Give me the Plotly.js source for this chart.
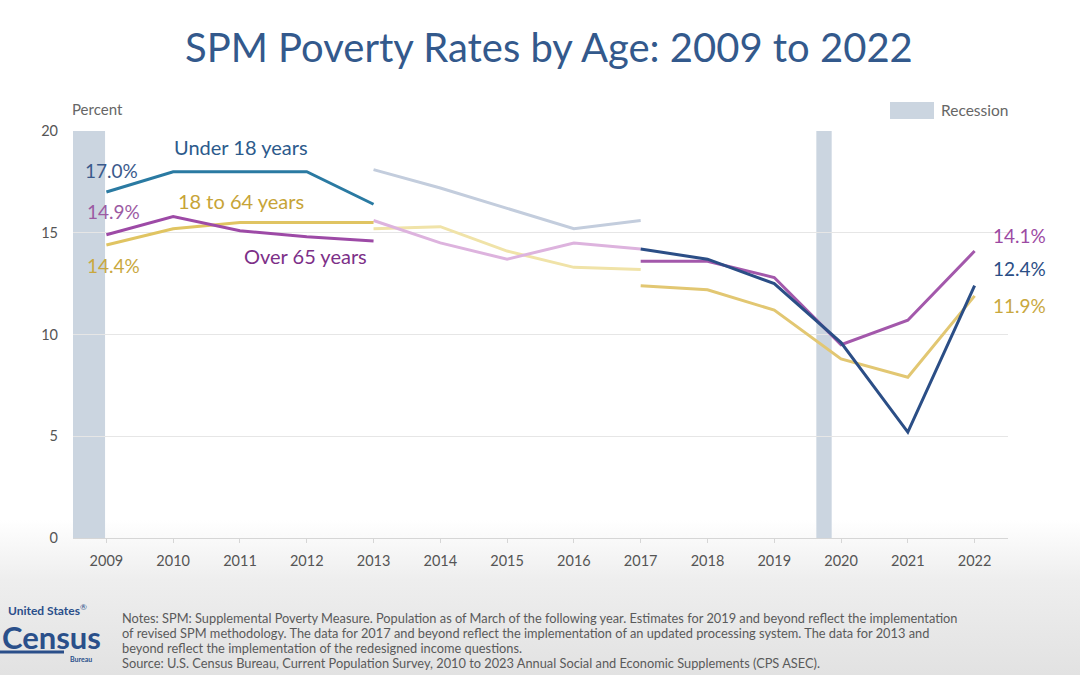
<!DOCTYPE html>
<html>
<head>
<meta charset="utf-8">
<script src="https://cdn.plot.ly/plotly-3.0.1.min.js"></script>
<style>
  html, body { margin: 0; padding: 0; }
  body { width: 1080px; height: 675px; overflow: hidden;
         background: linear-gradient(to bottom, #ffffff 0px, #ffffff 520px, #eeeeee 580px, #e2e2e2 675px); }
  #chart { width: 1080px; height: 675px; }
</style>
</head>
<body>
<div id="chart"></div>
<script>
// ---- data ----
const yearsA = [2009, 2010, 2011, 2012, 2013];
const yearsB = [2013, 2014, 2015, 2016, 2017];
const yearsC = [2017, 2018, 2019, 2020, 2021, 2022];
const tickYears = [2009, 2010, 2011, 2012, 2013, 2014, 2015, 2016, 2017, 2018, 2019, 2020, 2021, 2022];

const under18A = [17.0, 18.0, 18.0, 18.0, 16.4];
const under18B = [18.1, 17.2, 16.2, 15.2, 15.6];
const under18C = [14.2, 13.7, 12.5, 9.6, 5.2, 12.4];

const age18to64A = [14.4, 15.2, 15.5, 15.5, 15.5];
const age18to64B = [15.2, 15.3, 14.1, 13.3, 13.2];
const age18to64C = [12.4, 12.2, 11.2, 8.8, 7.9, 11.9];

const over65A = [14.9, 15.8, 15.1, 14.8, 14.6];
const over65B = [15.6, 14.5, 13.7, 14.5, 14.2];
const over65C = [13.6, 13.6, 12.8, 9.5, 10.7, 14.1];

const recessions = [[2008.5, 2008.98], [2019.63, 2019.86]];

// ---- styling ----
const FONT = 'Lato, "Open Sans", sans-serif';
const L = 73, R = 1008, T = 131, B = 538;
const px = x => (x - L) / (R - L);
const py = y => (B - y) / (B - T);

function line(x, y, color, w) {
  return { x: x, y: y, type: 'scatter', mode: 'lines',
           line: { color: color, width: w || 3 }, hoverinfo: 'skip', showlegend: false };
}

const traces = [
  line(yearsB, under18B, '#c3cddd'),
  line(yearsB, age18to64B, '#f0e3a8'),
  line(yearsB, over65B, '#ddb3de'),
  line(yearsA, age18to64A, '#e0c462'),
  line(yearsA, over65A, '#9d4aa6'),
  line(yearsA, under18A, '#2a7aa2'),
  line(yearsC, age18to64C, '#e2c772'),
  line(yearsC, over65C, '#a358ab'),
  line(yearsC, under18C, '#2b4e86')
];

const shapes = recessions.map(r => ({
  type: 'rect', xref: 'x', yref: 'paper', x0: r[0], x1: r[1], y0: 0, y1: 1,
  fillcolor: '#cbd5e0', line: { width: 0 }, layer: 'below'
}));
// legend swatch
shapes.push({ type: 'rect', xref: 'paper', yref: 'paper',
  x0: px(890), x1: px(934), y0: py(119), y1: py(102),
  fillcolor: '#cbd5e0', line: { width: 0 } });
// logo rule
shapes.push({ type: 'line', xref: 'paper', yref: 'paper', x0: px(0), x1: px(64), y0: py(652), y1: py(652),
  line: { color: '#2a4f8a', width: 3 } });

function ann(x, y, text, color, size, anchor, extra) {
  return Object.assign({ xref: 'paper', yref: 'paper', x: px(x), y: py(y), text: text,
    showarrow: false, xanchor: anchor || 'center', yanchor: 'middle',
    font: { family: FONT, size: size, color: color } }, extra || {});
}

const noteColor = '#5a5a5a';
const annotations = [
  ann(549, 47, 'SPM Poverty Rates by Age: 2009 to 2022', '#33598c', 40),
  ann(70, 109, 'Percent', '#666666', 15, 'left'),
  ann(939, 110, 'Recession', '#666666', 15.5, 'left'),
  ann(241, 147, 'Under 18 years', '#2c5a8c', 20),
  ann(111, 170, '17.0%', '#3a5a8c', 19),
  ann(113, 211, '14.9%', '#9c5ba3', 19),
  ann(241, 201, '18 to 64 years', '#c7a437', 20),
  ann(113, 265, '14.4%', '#c9a83e', 19),
  ann(305, 256, 'Over 65 years', '#7d3088', 20),
  ann(1019, 235, '14.1%', '#9c4aa3', 19),
  ann(1019, 268, '12.4%', '#2b4e86', 19),
  ann(1019, 305, '11.9%', '#c9a83e', 19),
  // footer logo
  ann(6, 610, '<b>United States</b><sup>®</sup>', '#2a4f8a', 12, 'left'),
  ann(0, 637, '<b>Census</b>', '#2a4f8a', 31, 'left'),
  ann(68, 659, '<b>Bureau</b>', '#2a4f8a', 7, 'left'),
  // notes
  ann(120, 618, 'Notes: SPM: Supplemental Poverty Measure. Population as of March of the following year. Estimates for 2019 and beyond reflect the implementation', noteColor, 12.8, 'left'),
  ann(120, 633, 'of revised SPM methodology. The data for 2017 and beyond reflect the implementation of an updated processing system. The data for 2013 and', noteColor, 12.8, 'left'),
  ann(120, 648, 'beyond reflect the implementation of the redesigned income questions.', noteColor, 12.8, 'left'),
  ann(120, 663, 'Source: U.S. Census Bureau, Current Population Survey, 2010 to 2023 Annual Social and Economic Supplements (CPS ASEC).', noteColor, 12.8, 'left')
];

const layout = {
  width: 1080, height: 675,
  margin: { l: L, r: 1080 - R, t: T, b: 675 - B, pad: 0 },
  paper_bgcolor: 'rgba(0,0,0,0)', plot_bgcolor: 'rgba(0,0,0,0)',
  font: { family: FONT, color: '#555555' },
  showlegend: false,
  xaxis: {
    range: [2008.5, 2022.5], tickmode: 'array', tickvals: tickYears, ticktext: tickYears.map(String),
    showgrid: false, zeroline: false, showline: true, linecolor: '#d6d6d6', linewidth: 1,
    ticks: 'outside', ticklen: 4, tickcolor: '#d6d6d6',
    tickfont: { family: FONT, size: 14.5, color: '#555555' }, ticklabelstandoff: 6
  },
  yaxis: {
    range: [0, 20], tickvals: [0, 5, 10, 15, 20], showgrid: true, gridcolor: '#e6e6e6', gridwidth: 1,
    zeroline: false, showline: false, ticks: '',
    tickfont: { family: FONT, size: 14.5, color: '#555555' }, ticklabelstandoff: 14
  },
  shapes: shapes,
  annotations: annotations
};

Plotly.newPlot('chart', traces, layout, { displayModeBar: false, staticPlot: true });
</script>
</body>
</html>
